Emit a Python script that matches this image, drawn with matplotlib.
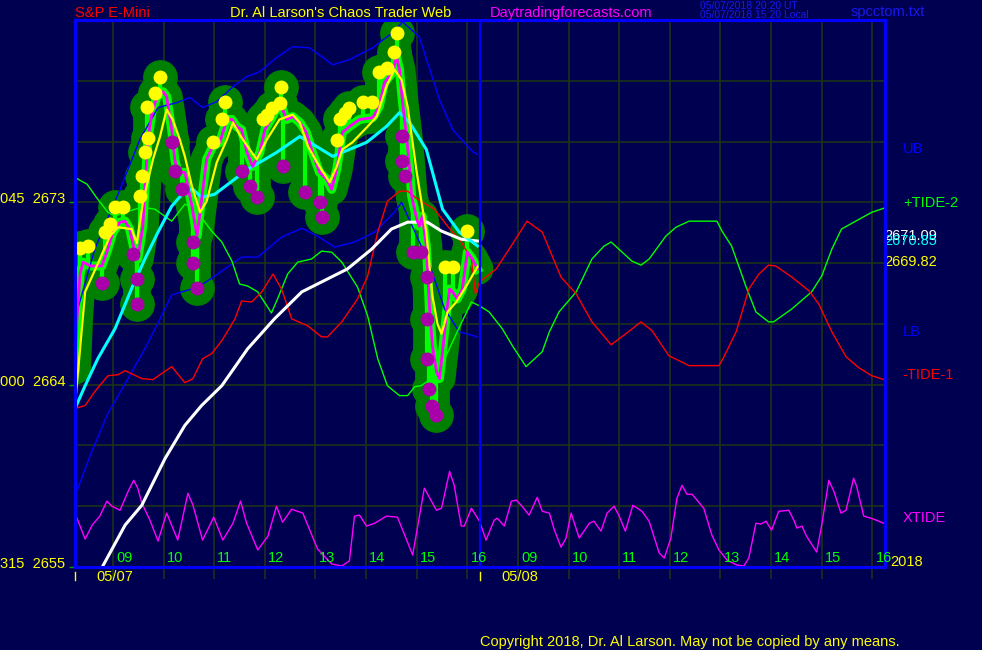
import numpy as np
import matplotlib.pyplot as plt

plt.rcParams['font.family'] = ['Liberation Sans', 'DejaVu Sans']

# x axis = session hours, 0 = 08:15 on 05/07, 8 = 08:15 on 05/08
hours = [9, 10, 11, 12, 13, 14, 15, 16]
day_labels = ['05/07', '05/08']
left_levels = [2673, 2664, 2655]
left_prefix = ['045', '000', '315']

price = np.array([
    (0, 2664.79), (0.04, 2667.25), (0.10, 2669.46), (0.16, 2670.05), (0.30, 2669.86), (0.53, 2669.86),
    (0.63, 2670.54), (0.75, 2671.53), (0.89, 2672.02), (0.99, 2672.07), (1.08, 2671.68), (1.18, 2670.54),
    (1.24, 2670.20), (1.34, 2671.82), (1.40, 2674.48), (1.44, 2676.10), (1.52, 2677.43), (1.62, 2678.22),
    (1.74, 2678.46), (1.81, 2678.22), (1.91, 2676.59), (1.97, 2675.12), (2.03, 2674.48), (2.17, 2674.48),
    (2.31, 2672.81), (2.41, 2671.33), (2.47, 2672.51), (2.60, 2675.12), (2.72, 2675.76), (2.86, 2675.96),
    (3.00, 2677.09), (3.10, 2677.09), (3.19, 2676.74), (3.29, 2676.59), (3.39, 2675.51), (3.51, 2674.77),
    (3.65, 2675.46), (3.75, 2676.59), (3.90, 2677.23), (4.04, 2677.97), (4.18, 2677.09), (4.30, 2677.23),
    (4.44, 2676.94), (4.57, 2676.45), (4.69, 2675.46), (4.83, 2674.48), (4.97, 2674.14), (5.07, 2673.64),
    (5.17, 2674.63), (5.28, 2676.45), (5.42, 2676.74), (5.62, 2677.09), (5.88, 2677.18), (6.01, 2677.73),
    (6.11, 2678.91), (6.27, 2679.40), (6.35, 2680.19), (6.41, 2679.55), (6.47, 2677.92), (6.55, 2676.25),
    (6.61, 2674.63), (6.65, 2673.30), (6.75, 2672.17), (6.80, 2671.82), (6.86, 2672.32), (6.94, 2670.84),
    (7.00, 2667.89), (7.06, 2665.92), (7.14, 2664.64), (7.20, 2664.30), (7.26, 2665.63), (7.34, 2667.59),
    (7.40, 2668.72), (7.46, 2668.58), (7.55, 2668.23), (7.65, 2668.72), (7.75, 2670.54), (7.85, 2670.20),
    (7.95, 2669.71)])

fast_ma = np.array([
    (0, 2662.97), (0.14, 2666.90), (0.20, 2668.58), (0.43, 2669.86), (0.69, 2671.33), (0.85, 2671.77),
    (1.12, 2671.68), (1.22, 2670.99), (1.34, 2673.00), (1.54, 2675.12), (1.68, 2676.25), (1.81, 2677.58),
    (1.93, 2677.09), (2.07, 2676.10), (2.17, 2675.27), (2.31, 2673.79), (2.47, 2672.51), (2.60, 2673.05),
    (2.80, 2674.97), (3.00, 2676.10), (3.12, 2676.94), (3.25, 2676.35), (3.45, 2675.61), (3.59, 2675.12),
    (3.79, 2676.10), (4.04, 2677.09), (4.30, 2677.33), (4.44, 2676.94), (4.60, 2675.76), (4.83, 2674.77),
    (5.03, 2673.99), (5.17, 2674.77), (5.28, 2675.61), (5.48, 2675.96), (5.76, 2676.69), (5.96, 2677.23),
    (6.15, 2678.71), (6.31, 2679.55), (6.45, 2679.05), (6.57, 2677.73), (6.75, 2674.48), (6.94, 2671.53),
    (7.06, 2668.38), (7.16, 2667.00), (7.24, 2666.51), (7.36, 2667.59), (7.53, 2668.08), (7.73, 2668.87),
    (7.95, 2669.82)])

mid_ma = np.array([
    (0, 2662.82), (0.20, 2663.95), (0.45, 2665.28), (0.79, 2666.76), (1.14, 2668.87), (1.38, 2670.20),
    (1.64, 2671.53), (1.91, 2672.81), (2.17, 2673.55), (2.33, 2673.64), (2.50, 2673.25), (2.76, 2673.40),
    (3.10, 2674.04), (3.41, 2674.63), (3.75, 2675.12), (3.98, 2675.46), (4.44, 2676.25), (4.77, 2675.76),
    (5.09, 2675.27), (5.42, 2675.61), (5.76, 2675.96), (6.15, 2676.74), (6.41, 2677.43), (6.61, 2676.94),
    (6.94, 2675.61), (7.26, 2672.66), (7.59, 2671.53), (7.95, 2670.85)])

slow_ma = np.array([
    (0.30, 2653.48), (0.55, 2655.05), (0.99, 2657.07), (1.32, 2658.05), (1.78, 2660.36), (2.17, 2661.99),
    (2.50, 2662.97), (2.90, 2663.95), (3.41, 2665.77), (3.94, 2667.25), (4.48, 2668.58), (4.99, 2669.22),
    (5.38, 2669.71), (5.86, 2670.69), (6.25, 2671.68), (6.57, 2672.02), (6.96, 2672.02), (7.24, 2671.58),
    (7.63, 2671.18), (7.95, 2671.09)])

upper_band = np.array([
    (0, 2667.25), (0.39, 2670.69), (0.89, 2673.64), (1.28, 2676.10), (1.64, 2677.68), (2.01, 2677.92),
    (2.27, 2678.17), (2.52, 2677.68), (2.80, 2677.97), (3.12, 2678.71), (3.39, 2679.20), (3.65, 2679.45),
    (3.98, 2680.14), (4.30, 2680.68), (4.63, 2680.63), (5.09, 2679.79), (5.42, 2680.04), (5.88, 2680.63),
    (6.27, 2681.37), (6.47, 2681.91), (6.80, 2681.17), (7.20, 2678.07), (7.46, 2676.59), (7.85, 2675.51),
    (7.95, 2675.37)])

lower_band = np.array([
    (0, 2658.49), (0.30, 2660.51), (0.65, 2662.58), (0.99, 2664.05), (1.38, 2665.77), (1.68, 2667.25),
    (1.91, 2668.43), (2.43, 2668.82), (2.76, 2669.36), (3.29, 2670.30), (3.61, 2670.30), (4.08, 2671.28),
    (4.48, 2671.72), (4.79, 2671.33), (5.13, 2670.79), (5.52, 2671.04), (5.92, 2671.53), (6.31, 2672.51),
    (6.45, 2673.00), (7.00, 2669.95), (7.30, 2667.74), (7.59, 2666.61), (7.95, 2666.36)])

tide2 = np.array([
    (0, 2674.23), (0.24, 2673.89), (0.45, 2673.15), (0.65, 2672.51), (0.79, 2672.32), (0.99, 2672.51),
    (1.32, 2672.76), (1.58, 2672.66), (1.91, 2672.07), (2.17, 2672.91), (2.37, 2672.66), (2.70, 2671.58),
    (2.90, 2671.04), (3.10, 2670.10), (3.25, 2668.97), (3.41, 2668.87), (3.61, 2668.58), (3.88, 2667.54),
    (4.00, 2668.23), (4.20, 2669.46), (4.40, 2670.05), (4.67, 2670.20), (4.87, 2670.59), (5.07, 2670.54),
    (5.27, 2670.05), (5.58, 2668.82), (5.78, 2667.40), (5.98, 2665.28), (6.17, 2663.95), (6.41, 2663.46),
    (6.57, 2663.46), (6.71, 2663.90), (6.84, 2663.95), (7.04, 2664.30), (7.24, 2664.94), (7.55, 2666.61),
    (7.83, 2668.08), (7.99, 2667.89), (8.18, 2667.59), (8.44, 2666.76), (8.64, 2665.92), (8.91, 2664.89),
    (9.23, 2665.63), (9.37, 2666.61), (9.56, 2667.59), (9.90, 2668.58), (10.21, 2670.20), (10.45, 2670.84),
    (10.59, 2671.04), (11.00, 2670.10), (11.18, 2669.90), (11.34, 2670.20), (11.67, 2671.33), (11.87, 2671.77),
    (12.13, 2672.07), (12.68, 2672.07), (12.78, 2671.58), (12.97, 2670.84), (13.11, 2669.86), (13.25, 2668.87),
    (13.45, 2667.59), (13.70, 2667.10), (13.80, 2667.10), (14.16, 2667.74), (14.55, 2668.58), (14.75, 2669.36),
    (14.95, 2670.69), (15.14, 2671.68), (15.42, 2672.07), (15.74, 2672.51), (15.98, 2672.71)])

tide1 = np.array([
    (0, 2662.82), (0.20, 2662.97), (0.39, 2663.66), (0.65, 2664.44), (0.85, 2664.49), (0.99, 2664.69),
    (1.32, 2664.30), (1.54, 2664.25), (1.91, 2664.89), (2.17, 2664.10), (2.33, 2664.30), (2.52, 2665.28),
    (2.70, 2665.53), (2.90, 2666.17), (3.16, 2667.25), (3.29, 2668.13), (3.49, 2668.08), (3.69, 2668.58),
    (3.91, 2669.46), (4.08, 2668.72), (4.28, 2667.25), (4.60, 2666.90), (4.87, 2666.36), (4.99, 2666.36),
    (5.27, 2667.10), (5.58, 2668.23), (5.78, 2669.36), (5.98, 2671.53), (6.17, 2673.05), (6.41, 2673.55),
    (6.57, 2673.55), (6.77, 2673.15), (7.10, 2672.66), (7.36, 2671.82), (7.63, 2671.04), (7.83, 2670.20),
    (7.91, 2668.48), (7.99, 2669.07), (8.32, 2669.71), (8.64, 2670.94), (8.93, 2672.07), (9.23, 2671.53),
    (9.37, 2670.69), (9.60, 2669.31), (9.90, 2668.48), (10.21, 2667.10), (10.59, 2665.97), (10.88, 2666.51),
    (11.18, 2667.10), (11.40, 2666.66), (11.73, 2665.43), (12.13, 2664.94), (12.72, 2664.94), (12.82, 2665.38),
    (13.06, 2666.61), (13.31, 2668.72), (13.51, 2669.46), (13.70, 2669.90), (13.84, 2669.86), (14.16, 2669.31),
    (14.50, 2668.63), (14.69, 2667.99), (14.95, 2666.61), (15.23, 2665.38), (15.48, 2664.84), (15.74, 2664.44),
    (15.98, 2664.25)])

xtide = np.array([
    (0, 2657.66), (0.20, 2656.38), (0.34, 2657.07), (0.49, 2657.51), (0.63, 2658.25), (0.73, 2658.00),
    (0.89, 2657.80), (1.05, 2658.74), (1.16, 2659.28), (1.24, 2658.89), (1.32, 2658.15), (1.48, 2657.31),
    (1.64, 2656.28), (1.81, 2657.66), (2.03, 2656.33), (2.23, 2658.64), (2.33, 2658.05), (2.52, 2656.33),
    (2.74, 2657.46), (2.92, 2656.33), (3.12, 2657.16), (3.27, 2658.25), (3.39, 2657.16), (3.61, 2655.84),
    (3.81, 2656.52), (3.98, 2658.00), (4.10, 2657.21), (4.28, 2657.85), (4.50, 2657.66), (4.79, 2655.89),
    (5.07, 2655.15), (5.27, 2655.05), (5.42, 2655.30), (5.52, 2657.51), (5.62, 2657.56), (5.76, 2657.02),
    (5.92, 2657.16), (6.15, 2657.51), (6.37, 2657.46), (6.67, 2655.59), (6.90, 2658.89), (7.14, 2657.80),
    (7.24, 2657.90), (7.40, 2659.72), (7.49, 2659.03), (7.63, 2657.02), (7.69, 2657.02), (7.83, 2657.90),
    (7.99, 2657.26), (8.12, 2656.33), (8.28, 2657.31), (8.34, 2657.41), (8.48, 2657.02), (8.62, 2658.25),
    (8.72, 2658.30), (8.83, 2658.00), (8.97, 2657.56), (9.13, 2658.44), (9.23, 2657.75), (9.37, 2657.66),
    (9.47, 2656.82), (9.60, 2655.98), (9.70, 2656.43), (9.80, 2657.66), (9.96, 2656.43), (10.16, 2657.16),
    (10.25, 2657.26), (10.39, 2656.77), (10.51, 2657.66), (10.65, 2658.00), (10.75, 2657.51), (10.87, 2656.77),
    (11.02, 2658.05), (11.20, 2657.75), (11.34, 2657.26), (11.54, 2655.69), (11.64, 2655.44), (11.77, 2656.43),
    (11.89, 2658.39), (11.99, 2659.03), (12.09, 2658.59), (12.19, 2658.59), (12.42, 2657.90), (12.58, 2656.57),
    (12.72, 2655.84), (12.88, 2655.34), (13.07, 2655.10), (13.21, 2655.05), (13.31, 2655.44), (13.45, 2657.16),
    (13.55, 2657.12), (13.65, 2657.26), (13.76, 2656.82), (13.90, 2657.75), (14.10, 2657.80), (14.20, 2657.31),
    (14.26, 2656.92), (14.36, 2657.02), (14.45, 2656.52), (14.65, 2655.74), (14.75, 2657.07), (14.89, 2659.28),
    (14.99, 2658.74), (15.13, 2657.66), (15.23, 2657.80), (15.38, 2659.38), (15.44, 2658.98), (15.58, 2657.51),
    (15.72, 2657.41), (15.83, 2657.31), (15.97, 2657.16)])

high_dots = np.array([
    (0.10, 2670.74), (0.26, 2670.84), (0.59, 2671.53), (0.69, 2671.92), (0.79, 2672.76), (0.95, 2672.76),
    (1.28, 2673.30), (1.32, 2674.28), (1.38, 2675.46), (1.44, 2676.20), (1.42, 2677.73), (1.58, 2678.41),
    (1.68, 2679.20), (2.72, 2676.00), (2.90, 2677.09), (2.96, 2677.97), (3.71, 2677.09), (3.79, 2677.33),
    (3.90, 2677.68), (4.04, 2677.92), (4.06, 2678.71), (5.17, 2676.10), (5.23, 2677.09), (5.33, 2677.43),
    (5.42, 2677.68), (5.68, 2677.97), (5.86, 2677.97), (6.01, 2679.45), (6.17, 2679.64), (6.31, 2680.43),
    (6.37, 2681.37), (7.30, 2669.81), (7.46, 2669.81), (7.75, 2671.58)])

low_dots = np.array([
    (0.53, 2669.02), (1.14, 2670.45), (1.22, 2669.22), (1.22, 2667.99), (1.91, 2676.00), (1.97, 2674.53),
    (2.11, 2673.64), (2.33, 2671.04), (2.33, 2670.00), (2.41, 2668.77), (3.29, 2674.53), (3.45, 2673.79),
    (3.59, 2673.25), (4.10, 2674.77), (4.54, 2673.50), (4.83, 2673.00), (4.87, 2672.27), (6.45, 2676.25),
    (6.45, 2675.02), (6.51, 2674.28), (6.67, 2670.54), (6.84, 2670.54), (6.96, 2669.31), (6.96, 2667.25),
    (6.96, 2665.28), (7.00, 2663.81), (7.06, 2662.97), (7.14, 2662.48)])

BG = '#000050'
GRID = '#1b331b'
BLUE = '#0000ff'

fig = plt.figure(figsize=(9.82, 6.5), dpi=100, facecolor=BG)
ax = fig.add_axes([75 / 982, 83 / 650, 810 / 982, 547 / 650], facecolor=BG)
ax.set_xlim(0, 16)
ax.set_ylim(2655, 2682)

for s in ax.spines.values():
    s.set_color(BLUE)
    s.set_linewidth(2.2)
    s.set_zorder(9)

ax.set_xticks([])
ax.set_yticks(left_levels)
ax.tick_params(axis='y', colors='#00a000', length=4, width=1, labelleft=False)

# grid
hour_pos = [h - 8.25 for h in hours] + [h - 0.25 for h in hours]
ax.vlines(hour_pos, -0.022, 1, transform=ax.get_xaxis_transform(), colors=GRID, lw=1.2,
          clip_on=False, zorder=0.5)
ax.hlines(np.arange(2658, 2682, 3), 0, 16, colors=GRID, lw=1.2, zorder=0.5)
ax.axvline(8, color=BLUE, lw=1.6, zorder=8)

for x, h in zip(hour_pos, hours + hours):
    ax.text(x + 0.06, 0.004, f'{h:02d}', transform=ax.get_xaxis_transform(), color='#00ff00',
            fontsize=10.5, ha='left', va='bottom', clip_on=False, zorder=10)

for x0, lab in zip([0, 8], day_labels):
    ax.plot([x0, x0], [-0.010, -0.024], transform=ax.get_xaxis_transform(), color='#ffff00',
            lw=1, clip_on=False)
    ax.text(x0 + 0.43, -0.019, lab, transform=ax.get_xaxis_transform(), color='#ffff00',
            fontsize=10.5, ha='left', va='center', clip_on=False)

for lvl, pre in zip(left_levels, left_prefix):
    ax.text(-75 / 810, lvl + 0.15, f'{pre}  {lvl}', transform=ax.get_yaxis_transform(),
            color='#ffff00', fontsize=10.5, ha='left', va='center', clip_on=False)

# price blob: dark green halo, bright green bars
px, pv = price[:, 0], price[:, 1]
dots = np.vstack([high_dots, low_dots])
ax.plot(px, pv, color='#008000', lw=23, solid_capstyle='round', solid_joinstyle='round', zorder=2)
ax.vlines(dots[:, 0], dots[:, 1], np.interp(dots[:, 0], px, pv), colors='#008000', lw=20, zorder=2)
ax.plot(dots[:, 0], dots[:, 1], 'o', color='#008000', ms=24, zorder=2)
ax.vlines(dots[:, 0], dots[:, 1], np.interp(dots[:, 0], px, pv), colors='#00ff00', lw=3, zorder=3)
ax.plot(px, pv, color='#00ff00', lw=6.5, zorder=3)

# bands and tides
ax.plot(upper_band[:, 0], upper_band[:, 1], color=BLUE, lw=1, zorder=4)
ax.plot(lower_band[:, 0], lower_band[:, 1], color=BLUE, lw=1, zorder=4)
ax.plot(tide2[:, 0], tide2[:, 1], color='#00ff00', lw=1, zorder=4)
ax.plot(tide1[:, 0], tide1[:, 1], color='#ff0000', lw=1, zorder=4)
ax.plot(xtide[:, 0], xtide[:, 1], color='#ff00ff', lw=1, zorder=4)

ax.plot(slow_ma[:, 0], slow_ma[:, 1], color='white', lw=2.2, zorder=5)
ax.plot(mid_ma[:, 0], mid_ma[:, 1], color='#00ffff', lw=2.2, zorder=5)
ax.plot(px, pv, color='#ff00ff', lw=2, zorder=6)
ax.plot(fast_ma[:, 0], fast_ma[:, 1], color='#ffff00', lw=1.6, zorder=6.5)

ax.plot(high_dots[:, 0], high_dots[:, 1], 'o', color='#ffff00', ms=9, zorder=7)
ax.plot(low_dots[:, 0], low_dots[:, 1], 'o', color='#aa00aa', ms=9, zorder=7)

# right side labels
ytf = ax.get_yaxis_transform()
for lab, series, col in [('UB', upper_band, BLUE), ('+TIDE-2', tide2, '#00ff00'),
                         ('LB', lower_band, BLUE), ('-TIDE-1', tide1, '#ff0000'),
                         ('XTIDE', xtide, '#ff00ff')]:
    ax.text(1.022, series[-1, 1] + 0.25, lab, transform=ytf, color=col, fontsize=10.5,
            ha='left', va='center', clip_on=False)
for series, col in [(slow_ma, 'white'), (mid_ma, '#00ffff'), (fast_ma, '#ffff00')]:
    ax.text(0.999, series[-1, 1] + 0.25, f'{series[-1, 1]:.2f}', transform=ytf, color=col,
            fontsize=10.5, ha='left', va='center', clip_on=False)

# header / footer
fig.text(75 / 982, 1 - 13 / 650, 'S&P E-Mini', color='#ff0000', fontsize=10.5, va='center')
fig.text(230 / 982, 1 - 13 / 650, "Dr. Al Larson's Chaos Trader Web", color='#ffff00',
         fontsize=10.5, va='center')
fig.text(490 / 982, 1 - 13 / 650, 'Daytradingforecasts.com', color='#ff00ff', fontsize=10.5,
         va='center')
fig.text(700 / 982, 1 - 6 / 650, '05/07/2018 20:20 UT', color='#1818f0', fontsize=7.5, va='center')
fig.text(700 / 982, 1 - 15 / 650, '05/07/2018 15:20 Local', color='#1818f0', fontsize=7.5,
         va='center')
fig.text(851 / 982, 1 - 12 / 650, 'spcctom.txt', color='#1818f0', fontsize=10.5, va='center')
fig.text(890 / 982, 1 - 562 / 650, '2018', color='#ffff00', fontsize=10.5, va='center')
fig.text(480 / 982, 1 - 642 / 650, 'Copyright 2018, Dr. Al Larson. May not be copied by any means.',
         color='#ffff00', fontsize=10.5, va='center')

fig.savefig('out.png', dpi=100, facecolor=BG)
